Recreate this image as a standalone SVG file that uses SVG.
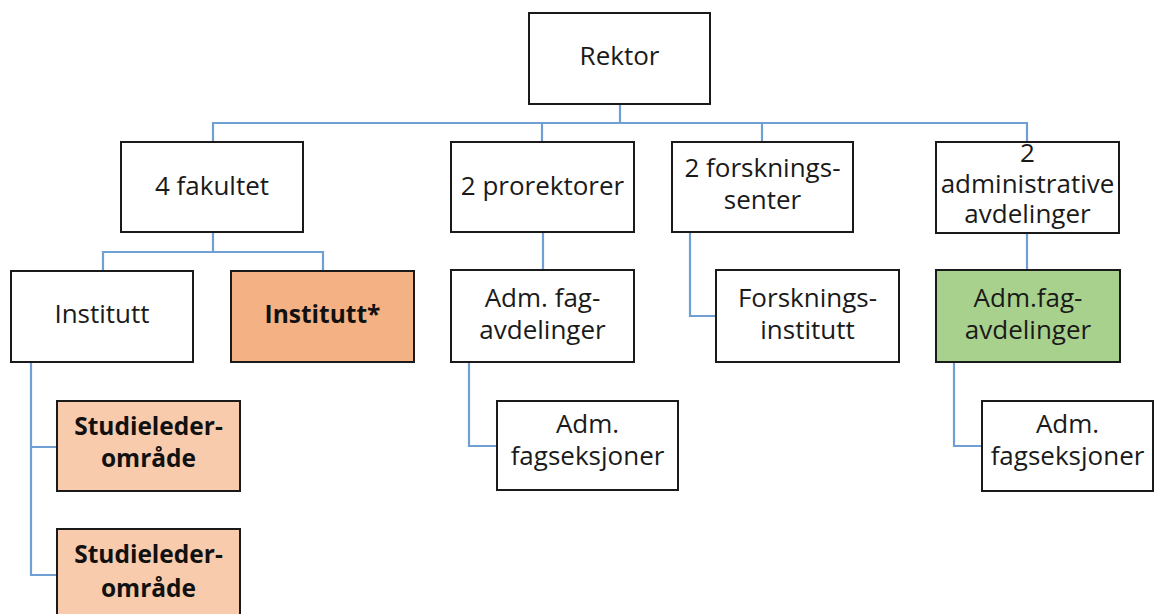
<svg xmlns="http://www.w3.org/2000/svg" width="1155" height="614" viewBox="0 0 1155 614">
<style>
.box{stroke:#1a1a1a;stroke-width:2;fill:#fff}
.orange{fill:#F4B183}
.peach{fill:#F8CBAD}
.green{fill:#A9D18E}
.t{font-family:"Open Sans","Liberation Sans",sans-serif;font-size:26px;fill:#1a1a1a;text-anchor:middle}
.b{font-family:"Open Sans","Liberation Sans",sans-serif;font-size:24.5px;font-weight:bold;fill:#111;text-anchor:middle}
.c{fill:none;stroke:#6F9FD3;stroke-width:2.2}
</style>
<rect width="1155" height="614" fill="#fff"/>
<g id="connectors">
<path class="c" d="M620 104V123M213 142V123H1027V142M542 123V142M762 123V142"/>
<path class="c" d="M213 232V252M103 271V252H323V271"/>
<path class="c" d="M31 362V575H57M31 447H57"/>
<path class="c" d="M543 232V270"/>
<path class="c" d="M469 362V446H497"/>
<path class="c" d="M690 232V316H716"/>
<path class="c" d="M1027 233V270"/>
<path class="c" d="M954 362V446H982"/>
</g>
<g id="rektor"><rect class="box" x="529" y="13" width="181" height="91"/><text class="t" x="619.5" y="65">Rektor</text></g>
<g id="fakultet"><rect class="box" x="121" y="142" width="182" height="90"/><text class="t" x="212" y="195">4 fakultet</text></g>
<g id="prorektorer"><rect class="box" x="451" y="142" width="183" height="90"/><text class="t" x="542.5" y="195">2 prorektorer</text></g>
<g id="forskningssenter"><rect class="box" x="672" y="142" width="181" height="90"/><text class="t" x="762.5" y="177">2 forsknings-</text><text class="t" x="762.5" y="209">senter</text></g>
<g id="adm-avdelinger"><rect class="box" x="936" y="142" width="183" height="91"/><text class="t" x="1027.5" y="162">2</text><text class="t" x="1027.5" y="193">administrative</text><text class="t" x="1027.5" y="223">avdelinger</text></g>
<g id="institutt"><rect class="box" x="11" y="271" width="182" height="91"/><text class="t" x="102" y="323">Institutt</text></g>
<g id="institutt-star"><rect class="box orange" x="231" y="271" width="183" height="91"/><text class="b" x="322.5" y="323">Institutt*</text></g>
<g id="adm-fag-avd"><rect class="box" x="451" y="270" width="183" height="92"/><text class="t" x="542.5" y="307">Adm. fag-</text><text class="t" x="542.5" y="339">avdelinger</text></g>
<g id="forskningsinstitutt"><rect class="box" x="716" y="270" width="183" height="92"/><text class="t" x="807.5" y="307">Forsknings-</text><text class="t" x="807.5" y="339">institutt</text></g>
<g id="adm-fag-avd-green"><rect class="box green" x="936" y="270" width="184" height="92"/><text class="t" x="1028" y="307">Adm.fag-</text><text class="t" x="1028" y="339">avdelinger</text></g>
<g id="studieleder1"><rect class="box peach" x="57" y="401" width="183" height="90"/><text class="b" x="148.5" y="435">Studieleder-</text><text class="b" x="148.5" y="467">område</text></g>
<g id="studieleder2"><rect class="box peach" x="57" y="529" width="183" height="95"/><text class="b" x="148.5" y="563">Studieleder-</text><text class="b" x="148.5" y="597">område</text></g>
<g id="fagseksjoner1"><rect class="box" x="497" y="401" width="181" height="89"/><text class="t" x="587.5" y="433">Adm.</text><text class="t" x="587.5" y="465">fagseksjoner</text></g>
<g id="fagseksjoner2"><rect class="box" x="982" y="401" width="171" height="90"/><text class="t" x="1067.5" y="433">Adm.</text><text class="t" x="1067.5" y="465">fagseksjoner</text></g>
</svg>
